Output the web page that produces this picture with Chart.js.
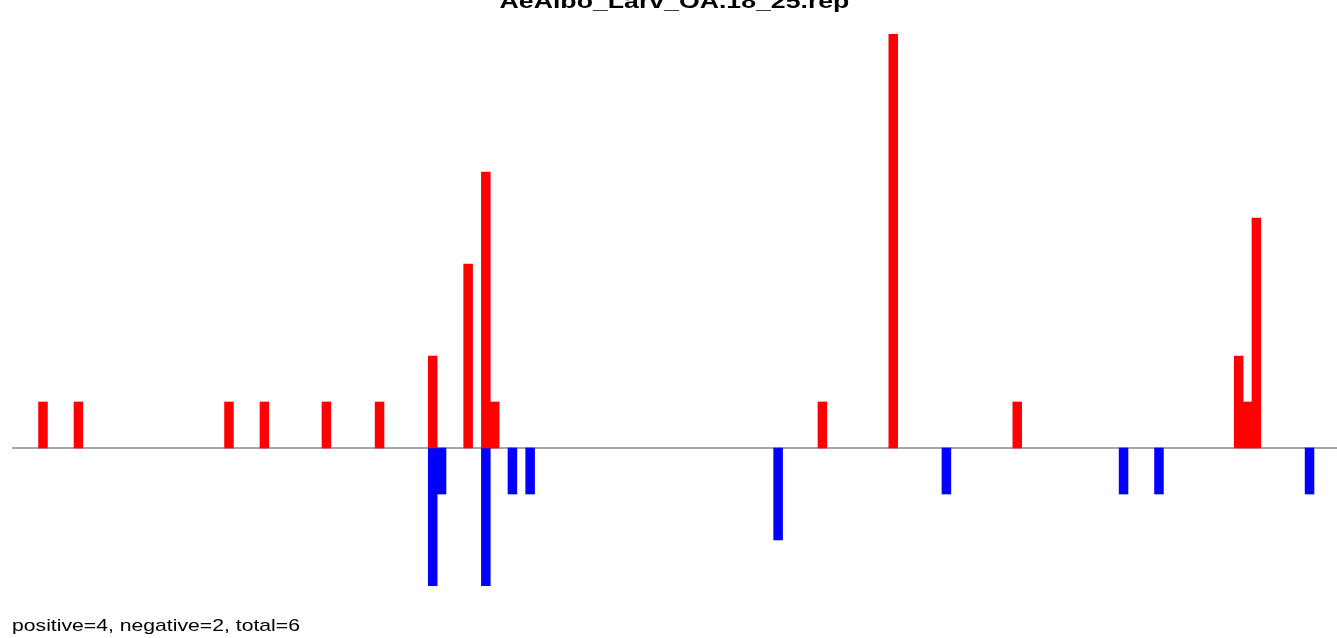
<!DOCTYPE html>
<html>
<head>
<meta charset="utf-8">
<script src="https://cdn.jsdelivr.net/npm/chart.js@4/dist/chart.umd.min.js"></script>
<style>
  html, body { margin: 0; padding: 0; background: #fff; overflow: hidden; }
  #wrap { position: relative; width: 1337px; height: 638px; }
  #chart { position: absolute; left: 0; top: 0; }
  .txt { position: absolute; white-space: nowrap; font-family: "Liberation Sans", Arial, sans-serif; color: #000; }
  #title { left: 12px; width: 1325px; top: -9.8px; text-align: center; font-size: 21px; line-height: 21px; font-weight: bold; transform: scaleX(1.27); transform-origin: 50% 0; }
  #footer { left: 12px; top: 616.6px; font-size: 17px; line-height: 17px; transform: scaleX(1.246); transform-origin: 0 0; }
</style>
</head>
<body>
<div id="wrap">
  <canvas id="chart" width="1337" height="638"></canvas>
  <div id="title" class="txt">AeAlbo_Larv_OA.18_25.rep</div>
  <div id="footer" class="txt">positive=4, negative=2, total=6</div>
</div>
<script>
// bins (x) and counts
const POS_BINS = [3, 7, 24, 28, 35, 41, 47, 51, 53, 54, 91, 99, 113, 138, 139, 140];
const POS_VALUES = [1, 1, 1, 1, 1, 1, 2, 4, 6, 1, 1, 9, 1, 2, 1, 5];
const NEG_BINS = [47, 48, 53, 56, 58, 86, 105, 125, 129, 146];
const NEG_VALUES = [-3, -1, -3, -1, -1, -2, -1, -1, -1, -1];

const X_MIN = 0;
const X_MAX = 149.6;
const Y_MIN = -3;
const Y_MAX = 9;

const toPoints = (bins, values) => bins.map((b, i) => ({ x: b + 0.5, y: values[i] }));

// grey zero line across the plot
const baseline = {
  id: "baseline",
  beforeDatasetsDraw(chart) {
    const { ctx, chartArea, scales } = chart;
    const y = scales.y.getPixelForValue(0);
    ctx.save();
    ctx.strokeStyle = "#8a8a8a";
    ctx.lineWidth = 1.6;
    ctx.beginPath();
    ctx.moveTo(chartArea.left, y);
    ctx.lineTo(chartArea.right, y);
    ctx.stroke();
    ctx.restore();
  }
};

new Chart(document.getElementById("chart"), {
  type: "bar",
  data: {
    datasets: [
      { label: "positive", data: toPoints(POS_BINS, POS_VALUES), backgroundColor: "#ff0000", borderWidth: 0 },
      { label: "negative", data: toPoints(NEG_BINS, NEG_VALUES), backgroundColor: "#0000ff", borderWidth: 0 }
    ]
  },
  options: {
    responsive: false,
    devicePixelRatio: 1,
    animation: false,
    barPercentage: 1,
    categoryPercentage: 1,
    layout: { padding: { left: 12, right: 0, top: 34, bottom: 52 } },
    plugins: { legend: { display: false }, tooltip: { enabled: false }, title: { display: false } },
    scales: {
      x: { type: "linear", min: X_MIN, max: X_MAX, offset: false, stacked: true, display: false },
      y: { min: Y_MIN, max: Y_MAX, stacked: true, display: false }
    }
  },
  plugins: [baseline]
});
</script>
</body>
</html>
